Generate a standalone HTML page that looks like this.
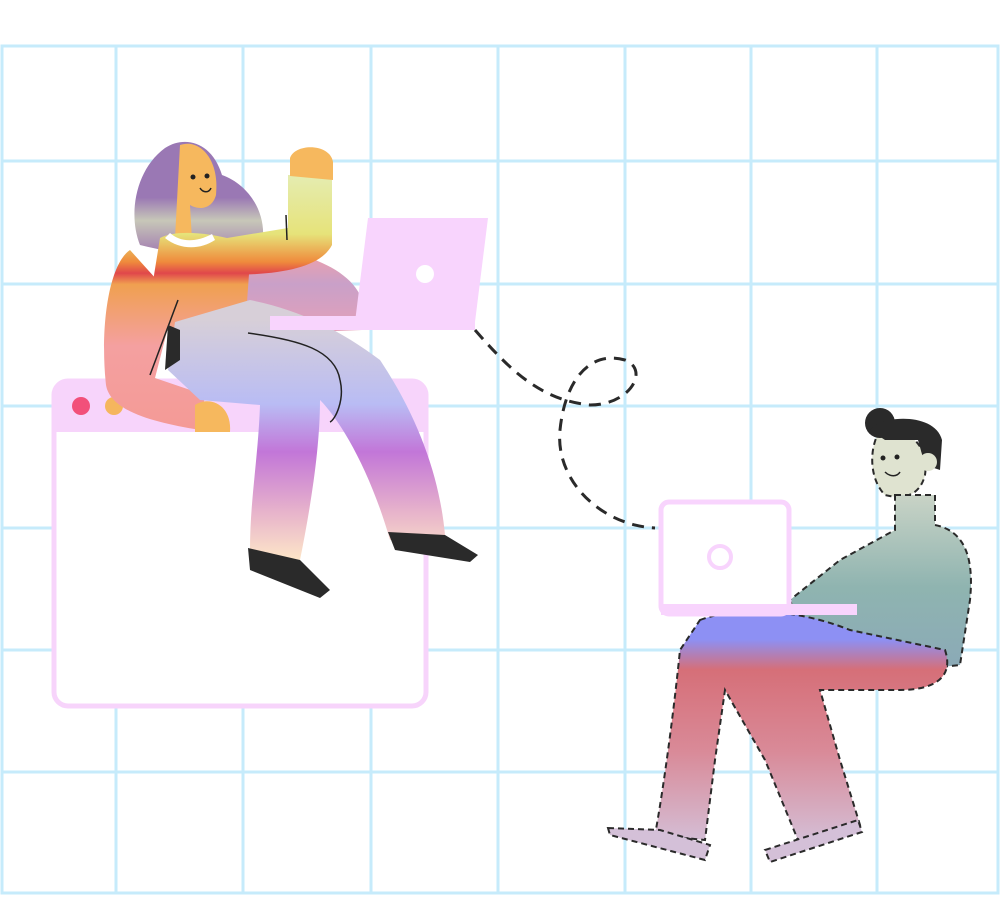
<!DOCTYPE html>
<html><head><meta charset="utf-8"><style>
html,body{margin:0;padding:0;background:#fff;width:1000px;height:915px;overflow:hidden}
</style></head><body>
<svg width="1000" height="915" viewBox="0 0 1000 915">
<defs>
<linearGradient id="shirtW" gradientUnits="userSpaceOnUse" x1="0" y1="150" x2="0" y2="430">
<stop offset="0" stop-color="#e4f0c8"/><stop offset="0.3" stop-color="#e6e37a"/><stop offset="0.4" stop-color="#ef8a3c"/><stop offset="0.44" stop-color="#e0474b"/><stop offset="0.48" stop-color="#f0a050"/><stop offset="0.7" stop-color="#f4a0a0"/><stop offset="1" stop-color="#f49a96"/></linearGradient>
<linearGradient id="backW" gradientUnits="userSpaceOnUse" x1="0" y1="250" x2="0" y2="335">
<stop offset="0" stop-color="#f2a0a8"/><stop offset="0.4" stop-color="#c9a0c8"/><stop offset="1" stop-color="#e6a0b8"/></linearGradient>
<linearGradient id="pantsW" gradientUnits="userSpaceOnUse" x1="0" y1="320" x2="0" y2="560">
<stop offset="0" stop-color="#d7cfd8"/><stop offset="0.35" stop-color="#b9bcf4"/><stop offset="0.55" stop-color="#c276d8"/><stop offset="0.8" stop-color="#e7b3cb"/><stop offset="1" stop-color="#fde6c8"/></linearGradient>
<linearGradient id="hairW" gradientUnits="userSpaceOnUse" x1="0" y1="140" x2="0" y2="255">
<stop offset="0" stop-color="#9a78b4"/><stop offset="0.5" stop-color="#9a78b4"/><stop offset="0.7" stop-color="#c7c7b8"/><stop offset="1" stop-color="#a078b0"/></linearGradient>
<linearGradient id="shirtM" x1="0" y1="0" x2="0" y2="1">
<stop offset="0" stop-color="#c9d3c6"/><stop offset="0.5" stop-color="#8fb4b0"/><stop offset="1" stop-color="#8aa8b8"/></linearGradient>
<linearGradient id="pantsM" x1="0" y1="0" x2="0" y2="1">
<stop offset="0" stop-color="#8d90f4"/><stop offset="0.12" stop-color="#8d90f4"/><stop offset="0.25" stop-color="#d66f78"/><stop offset="0.6" stop-color="#d98a98"/><stop offset="1" stop-color="#d4c0d8"/></linearGradient>
</defs>
<g stroke="#c6ebfb" stroke-width="3" fill="none">
<rect x="2" y="46" width="996" height="847"/>
<line x1="116" y1="46" x2="116" y2="893"/><line x1="243" y1="46" x2="243" y2="893"/><line x1="371" y1="46" x2="371" y2="893"/><line x1="498" y1="46" x2="498" y2="893"/><line x1="625" y1="46" x2="625" y2="893"/><line x1="751" y1="46" x2="751" y2="893"/><line x1="877" y1="46" x2="877" y2="893"/>
<line x1="2" y1="161" x2="998" y2="161"/><line x1="2" y1="284" x2="998" y2="284"/><line x1="2" y1="406" x2="998" y2="406"/><line x1="2" y1="528" x2="998" y2="528"/><line x1="2" y1="650" x2="998" y2="650"/><line x1="2" y1="772" x2="998" y2="772"/>
</g>
<g>
<rect x="54" y="381" width="372" height="325" rx="14" fill="#fff" stroke="#f7d4fb" stroke-width="5"/>
<path d="M54 432 V395 a14 14 0 0 1 14 -14 H412 a14 14 0 0 1 14 14 V432 Z" fill="#f7d4fb"/>
<circle cx="81" cy="406" r="9" fill="#f2507a"/>
<circle cx="114" cy="406" r="9" fill="#f5b65e"/>
</g>
<path d="M475 330 C510 370 540 400 590 405 C630 405 650 370 625 360 C590 350 565 380 560 430 C555 480 600 525 655 528" fill="none" stroke="#2a2a2a" stroke-width="3" stroke-dasharray="12 8"/>
<g>
<path d="M165 148 C185 135 212 142 222 175 C250 185 268 215 262 245 C230 262 180 255 140 245 C128 215 135 170 165 148Z" fill="url(#hairW)"/>
<path d="M200 250 C260 240 340 255 360 295 L362 330 L230 335 Z" fill="url(#backW)"/>
<path d="M180 145 C200 138 220 160 216 195 C212 210 198 210 190 205 L192 240 L175 238 Z" fill="#f6b85e"/>
<circle cx="193" cy="177" r="2.5" fill="#222"/><circle cx="207" cy="176" r="2.5" fill="#222"/>
<path d="M200 188 C203 193 209 193 211 188" fill="none" stroke="#222" stroke-width="1.5"/>
<path d="M160 238 C175 230 205 232 235 240 L250 260 L245 330 L175 335 L150 300 Z" fill="url(#shirtW)"/>
<path d="M165 238 C180 250 200 250 215 240 L212 234 C195 243 180 242 170 233 Z" fill="#fff"/>
<path d="M288 175 L332 175 L332 245 C320 268 280 275 225 275 L215 240 L288 228 Z" fill="url(#shirtW)"/>
<path d="M290 158 C295 143 330 143 333 162 L333 180 L290 176 Z" fill="#f6b85e"/>
<path d="M130 250 C108 265 100 330 106 385 C110 410 150 422 200 430 L205 395 L155 378 L175 300 Z" fill="url(#shirtW)"/>
<path d="M195 405 C210 395 232 405 230 432 L195 432Z" fill="#f6b85e"/>
<path d="M150 375 L178 300" stroke="#222" stroke-width="1.5"/>
<path d="M286 215 L287 240" stroke="#222" stroke-width="1.5"/>
<path d="M175 322 L250 300 C300 310 340 330 380 360 C420 420 440 480 445 535 L390 540 C370 470 340 420 320 400 C320 450 310 510 300 560 L250 550 C250 500 258 460 260 405 L200 400 L168 370 Z" fill="url(#pantsW)"/>
<path d="M168 325 L180 330 L180 360 L165 370 Z" fill="#2a2a2a"/>
<path d="M248 548 L300 560 L330 590 L320 598 L250 570 Z" fill="#2a2a2a"/>
<path d="M388 532 L445 535 L478 555 L470 562 L395 550 Z" fill="#2a2a2a"/>
<path d="M248 333 C300 340 335 350 340 380 C345 400 335 420 330 422" fill="none" stroke="#222" stroke-width="1.5"/>
</g>
<g>
<path d="M368 218 L488 218 L474 330 L354 330 Z" fill="#f8d4fd"/>
<rect x="270" y="316" width="205" height="14" fill="#f8d4fd"/>
<circle cx="425" cy="274" r="9" fill="#fff"/>
</g>
<g>
<path d="M880 430 C900 425 930 440 925 475 C920 495 905 500 885 495 C870 480 868 450 880 430Z" fill="#dfe3d0" stroke="#2a2a2a" stroke-width="2" stroke-dasharray="6 4"/>
<circle cx="880" cy="423" r="15" fill="#2a2a2a"/>
<path d="M870 430 C880 415 935 412 942 440 L940 470 L925 465 L918 440 L885 440Z" fill="#2a2a2a"/>
<circle cx="928" cy="462" r="9" fill="#dfe3d0"/>
<circle cx="883" cy="458" r="2.5" fill="#222"/><circle cx="897" cy="457" r="2.5" fill="#222"/>
<path d="M885 472 C890 477 897 477 900 472" fill="none" stroke="#222" stroke-width="1.5"/>
<path d="M895 495 L935 495 L935 525 C960 530 975 550 970 600 L960 665 L820 680 L790 600 L840 560 L895 530Z" fill="url(#shirtM)" stroke="#2a2a2a" stroke-width="2" stroke-dasharray="6 4"/>
<path d="M700 620 C740 605 800 610 850 630 L945 650 C955 680 930 690 900 690 L820 690 L840 760 L860 825 L800 845 L765 760 L725 690 L715 760 L705 840 L655 835 C665 780 675 700 680 650 Z" fill="url(#pantsM)" stroke="#2a2a2a" stroke-width="2" stroke-dasharray="6 4"/>
<path d="M608 828 L660 830 L710 845 L705 860 L610 835 Z" fill="#d4c0d8" stroke="#2a2a2a" stroke-width="2" stroke-dasharray="6 4"/>
<path d="M765 850 L858 820 L862 832 L770 862 Z" fill="#d4c0d8" stroke="#2a2a2a" stroke-width="2" stroke-dasharray="6 4"/>
</g>
<g>
<rect x="661" y="502" width="128" height="112" rx="8" fill="#fff" stroke="#f8d4fd" stroke-width="5"/>
<rect x="661" y="604" width="196" height="11" fill="#f8d4fd"/>
<circle cx="720" cy="557" r="11" fill="none" stroke="#f8d4fd" stroke-width="4"/>
</g>
</svg>
</body></html>
